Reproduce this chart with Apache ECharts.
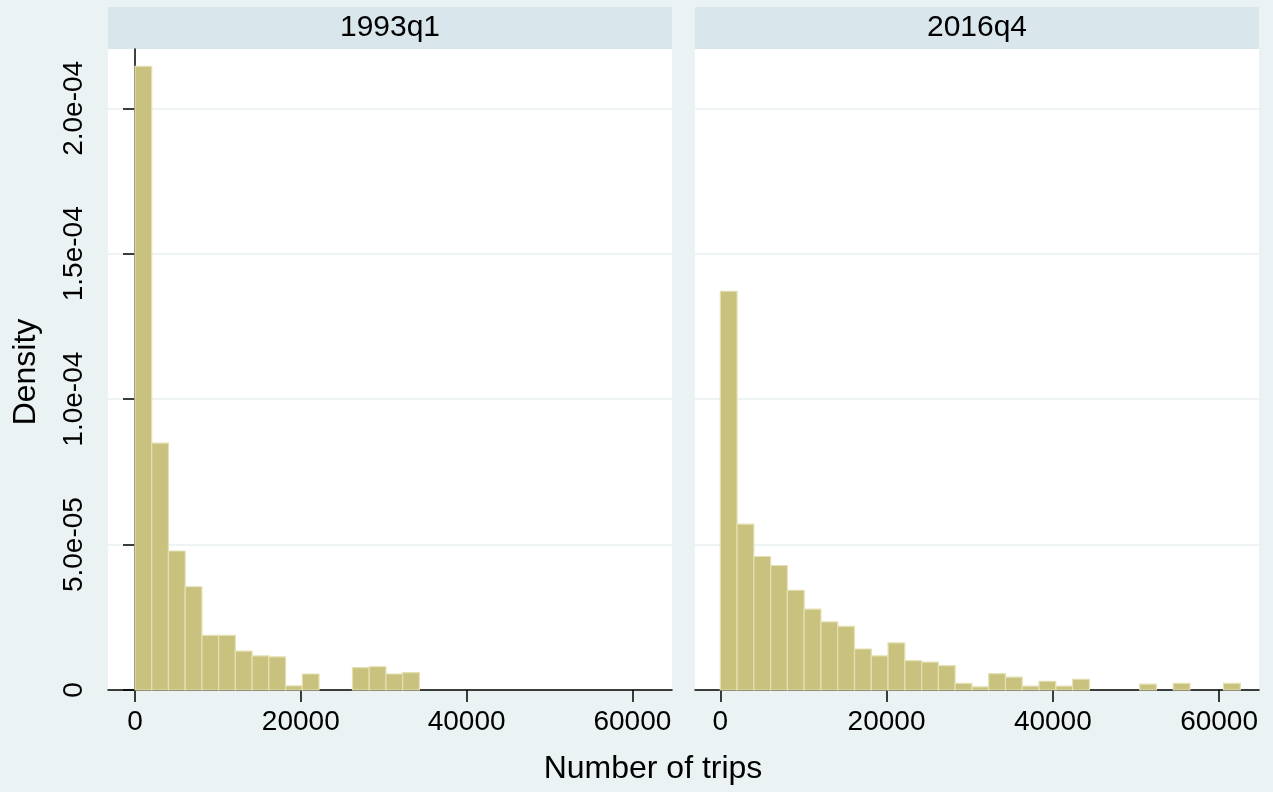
<!DOCTYPE html>
<html>
<head>
<meta charset="utf-8">
<title>Number of trips — histogram by quarter</title>
<script src="https://cdn.jsdelivr.net/npm/echarts@6/dist/echarts.min.js"></script>
<style>
  html, body { margin: 0; padding: 0; background: #eaf2f3; }
  #chart { width: 1273px; height: 792px; }
</style>
</head>
<body>
<div id="chart"></div>
<script>
// Histogram bins: common width (trips), first bin starts at 0
const binWidth = 2018;
const panelTitles = ['1993q1', '2016q4'];
const density1993q1 = [
  2.144e-4, 8.49e-5, 4.78e-5, 3.55e-5, 1.88e-5, 1.88e-5, 1.34e-5, 1.17e-5, 1.14e-5,
  1.4e-6, 5.5e-6, 0, 0, 7.7e-6, 8.0e-6, 5.5e-6, 6.0e-6
];
const density2016q4 = [
  1.371e-4, 5.70e-5, 4.59e-5, 4.28e-5, 3.43e-5, 2.78e-5, 2.34e-5, 2.19e-5, 1.41e-5,
  1.17e-5, 1.62e-5, 1.01e-5, 9.6e-6, 8.4e-6, 2.3e-6, 1.1e-6, 5.6e-6, 4.4e-6, 1.3e-6,
  3.0e-6, 1.3e-6, 3.7e-6, 0, 0, 0, 2.0e-6, 0, 2.3e-6, 0, 0, 2.3e-6
];
const xTickValues = [0, 20000, 40000, 60000];
const yTickValues = [0, 5e-5, 1e-4, 1.5e-4, 2e-4];
const yTickLabels = ['0', '5.0e-05', '1.0e-04', '1.5e-04', '2.0e-04'];
const xTitle = 'Number of trips';
const yTitle = 'Density';

const FONT = '"Liberation Sans", Arial, Helvetica, sans-serif';
const BAR_FILL = '#c9c27e';
const BAR_EDGE = '#e4e0b2';
const GRID_LINE = '#e8f0f2';

function toBins(values) {
  const out = [];
  values.forEach((d, i) => {
    if (d > 0) out.push([i * binWidth, (i + 1) * binWidth, d]);
  });
  return out;
}

function renderBin(params, api) {
  const top = api.coord([api.value(0), api.value(2)]);
  const bottom = api.coord([api.value(1), 0]);
  return {
    type: 'rect',
    shape: { x: top[0], y: top[1], width: bottom[0] - top[0], height: bottom[1] - top[1] },
    style: { fill: BAR_FILL, stroke: BAR_EDGE, lineWidth: 1.2 }
  };
}

const chart = echarts.init(document.getElementById('chart'), null, { renderer: 'canvas' });

const grids = [
  { left: 108, top: 49, width: 564, height: 641 },
  { left: 695, top: 49, width: 564, height: 641 }
];

function xAxisFor(gridIndex, min, max) {
  return {
    type: 'value', gridIndex, min, max,
    axisLine: { show: true, onZero: false, lineStyle: { color: '#000', width: 1.5 } },
    axisTick: { show: true, customValues: xTickValues, length: 12, lineStyle: { color: '#000', width: 1.5 } },
    axisLabel: {
      show: true, customValues: xTickValues, margin: 18,
      color: '#000', fontSize: 28, fontFamily: FONT,
      formatter: v => String(v)
    },
    splitLine: { show: false }
  };
}

function yAxisFor(gridIndex, showAxis) {
  return {
    type: 'value', gridIndex, min: 0, max: 2.204e-4, interval: 5e-5,
    axisLine: { show: showAxis, lineStyle: { color: '#000', width: 1.5 } },
    axisTick: { show: showAxis, customValues: yTickValues, length: 12, lineStyle: { color: '#000', width: 1.5 } },
    axisLabel: {
      show: showAxis, customValues: yTickValues, rotate: 90, margin: 20,
      color: '#000', fontSize: 28, fontFamily: FONT,
      formatter: v => {
        const i = yTickValues.findIndex(t => Math.abs(t - v) < 1e-9);
        return i >= 0 ? yTickLabels[i] : '';
      }
    },
    splitLine: { show: true, lineStyle: { color: GRID_LINE, width: 1.5 } }
  };
}

function panelHeader(grid, text) {
  return [
    {
      type: 'rect', silent: true,
      shape: { x: grid.left, y: 7, width: grid.width, height: 42 },
      style: { fill: '#d9e6ec' }
    },
    {
      type: 'rect', silent: true, z: -1,
      shape: { x: grid.left, y: grid.top, width: grid.width, height: grid.height },
      style: { fill: '#ffffff' }
    },
    {
      type: 'text', silent: true,
      x: grid.left + grid.width / 2, y: 28,
      style: {
        text, fill: '#000', font: '30px ' + FONT,
        textAlign: 'center', textVerticalAlign: 'middle'
      }
    }
  ];
}

const option = {
  backgroundColor: '#eaf2f3',
  animation: false,
  grid: grids,
  xAxis: [xAxisFor(0, -3257, 64778), xAxisFor(1, -3044, 64805)],
  yAxis: [yAxisFor(0, true), yAxisFor(1, false)],
  graphic: [
    ...panelHeader(grids[0], panelTitles[0]),
    ...panelHeader(grids[1], panelTitles[1]),
    {
      type: 'text', silent: true, x: 653, y: 769,
      style: { text: xTitle, fill: '#000', font: '32px ' + FONT, textAlign: 'center', textVerticalAlign: 'middle' }
    },
    {
      type: 'text', silent: true, x: 26, y: 372, rotation: Math.PI / 2,
      style: { text: yTitle, fill: '#000', font: '32px ' + FONT, textAlign: 'center', textVerticalAlign: 'middle' }
    }
  ],
  series: [
    {
      type: 'custom', name: panelTitles[0], xAxisIndex: 0, yAxisIndex: 0,
      renderItem: renderBin, encode: { x: [0, 1], y: 2 },
      data: toBins(density1993q1)
    },
    {
      type: 'custom', name: panelTitles[1], xAxisIndex: 1, yAxisIndex: 1,
      renderItem: renderBin, encode: { x: [0, 1], y: 2 },
      data: toBins(density2016q4)
    }
  ]
};

chart.setOption(option);
</script>
</body>
</html>
